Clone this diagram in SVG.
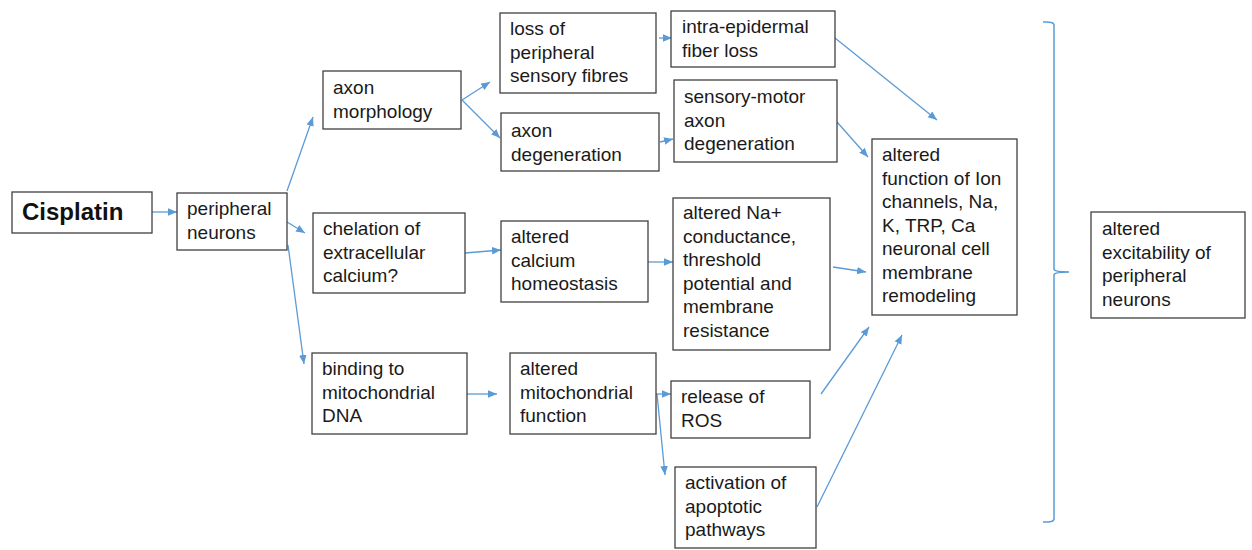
<svg xmlns="http://www.w3.org/2000/svg" width="1252" height="550" viewBox="0 0 1252 550">
<style>
.box{fill:#fff;stroke:#404040;stroke-width:1.3}
.t{font-family:"Liberation Sans",Arial,sans-serif;font-size:19px;fill:#1a1a1a}
.b{font-family:"Liberation Sans",Arial,sans-serif;font-size:24px;font-weight:bold;fill:#111}
.c{fill:none;stroke:#5B9BD5;stroke-width:1.3;marker-end:url(#ah)}
.br{fill:none;stroke:#5B9BD5;stroke-width:1.5}
</style>
<defs>
<marker id="ah" markerUnits="userSpaceOnUse" markerWidth="10" markerHeight="8" refX="9" refY="3.75" orient="auto">
<path d="M0,0 L9,3.75 L0,7.5 z" fill="#5B9BD5"/>
</marker>
</defs>
<rect width="1252" height="550" fill="#fff"/>
<g id="connectors">
<line class="c" x1="152" y1="212" x2="177" y2="212"/>
<line class="c" x1="287" y1="191" x2="313" y2="117"/>
<line class="c" x1="287" y1="222" x2="305" y2="233"/>
<line class="c" x1="288" y1="245" x2="304" y2="364"/>
<line class="c" x1="462" y1="100" x2="490" y2="82"/>
<line class="c" x1="462" y1="100" x2="500" y2="138"/>
<line class="c" x1="659" y1="38" x2="672" y2="38"/>
<line class="c" x1="660" y1="142" x2="673" y2="139"/>
<line class="c" x1="835" y1="38" x2="937" y2="120"/>
<line class="c" x1="837" y1="122" x2="868" y2="157"/>
<line class="c" x1="465" y1="253" x2="501" y2="250"/>
<line class="c" x1="648" y1="262" x2="673" y2="262"/>
<line class="c" x1="833" y1="267" x2="866" y2="272"/>
<line class="c" x1="467" y1="394" x2="497" y2="394"/>
<line class="c" x1="656" y1="394" x2="671" y2="394"/>
<line class="c" x1="657" y1="394" x2="665" y2="475"/>
<line class="c" x1="821" y1="394" x2="869" y2="327"/>
<line class="c" x1="817" y1="507" x2="902" y2="335"/>
<path class="br" d="M1043,22 Q1054,21.5 1054,25 V269 Q1054,272 1069,272 Q1054,272 1054,275 V519 Q1054,522.5 1043,522"/>
</g>
<g id="cisplatin"><rect class="box" x="12" y="192" width="140" height="41"/><text class="b" x="22" y="220">Cisplatin</text></g>
<g id="peripheral-neurons"><rect class="box" x="177" y="193" width="110" height="57"/><text class="t" x="187" y="215">peripheral</text><text class="t" x="187" y="238.5">neurons</text></g>
<g id="axon-morphology"><rect class="box" x="323" y="71" width="138" height="58"/><text class="t" x="333" y="94">axon</text><text class="t" x="333" y="117.5">morphology</text></g>
<g id="loss-fibres"><rect class="box" x="500" y="13" width="156" height="80"/><text class="t" x="510" y="35">loss of</text><text class="t" x="510" y="58.5">peripheral</text><text class="t" x="510" y="82">sensory fibres</text></g>
<g id="axon-degeneration"><rect class="box" x="501" y="113" width="158" height="58"/><text class="t" x="511" y="137">axon</text><text class="t" x="511" y="160.5">degeneration</text></g>
<g id="intra-epidermal"><rect class="box" x="671" y="11" width="164" height="56"/><text class="t" x="682" y="33">intra-epidermal</text><text class="t" x="682" y="56.5">fiber loss</text></g>
<g id="sensory-motor"><rect class="box" x="674" y="80" width="163" height="82"/><text class="t" x="684" y="103">sensory-motor</text><text class="t" x="684" y="126.5">axon</text><text class="t" x="684" y="150">degeneration</text></g>
<g id="chelation"><rect class="box" x="313" y="213" width="152" height="80"/><text class="t" x="323" y="235">chelation of</text><text class="t" x="323" y="258.5">extracellular</text><text class="t" x="323" y="282">calcium?</text></g>
<g id="calcium-homeostasis"><rect class="box" x="501" y="221" width="147" height="81"/><text class="t" x="511" y="243">altered</text><text class="t" x="511" y="266.5">calcium</text><text class="t" x="511" y="290">homeostasis</text></g>
<g id="na-conductance"><rect class="box" x="673" y="198" width="157" height="152"/><text class="t" x="683" y="219">altered Na+</text><text class="t" x="683" y="242.5">conductance,</text><text class="t" x="683" y="266">threshold</text><text class="t" x="683" y="289.5">potential and</text><text class="t" x="683" y="313">membrane</text><text class="t" x="683" y="336.5">resistance</text></g>
<g id="ion-channels"><rect class="box" x="872" y="139" width="145" height="176"/><text class="t" x="882" y="161">altered</text><text class="t" x="882" y="184.5">function of Ion</text><text class="t" x="882" y="208">channels, Na,</text><text class="t" x="882" y="231.5">K, TRP, Ca</text><text class="t" x="882" y="255">neuronal cell</text><text class="t" x="882" y="278.5">membrane</text><text class="t" x="882" y="302">remodeling</text></g>
<g id="binding-dna"><rect class="box" x="312" y="353" width="155" height="81"/><text class="t" x="322" y="375">binding to</text><text class="t" x="322" y="398.5">mitochondrial</text><text class="t" x="322" y="422">DNA</text></g>
<g id="mito-function"><rect class="box" x="510" y="353" width="146" height="81"/><text class="t" x="520" y="375">altered</text><text class="t" x="520" y="398.5">mitochondrial</text><text class="t" x="520" y="422">function</text></g>
<g id="ros"><rect class="box" x="671" y="381" width="139" height="57"/><text class="t" x="681" y="403">release of</text><text class="t" x="681" y="426.5">ROS</text></g>
<g id="apoptotic"><rect class="box" x="675" y="467" width="141" height="81"/><text class="t" x="685" y="489">activation of</text><text class="t" x="685" y="512.5">apoptotic</text><text class="t" x="685" y="536">pathways</text></g>
<g id="excitability"><rect class="box" x="1091" y="212" width="154" height="106"/><text class="t" x="1102" y="235">altered</text><text class="t" x="1102" y="258.5">excitability of</text><text class="t" x="1102" y="282">peripheral</text><text class="t" x="1102" y="305.5">neurons</text></g>
</svg>
